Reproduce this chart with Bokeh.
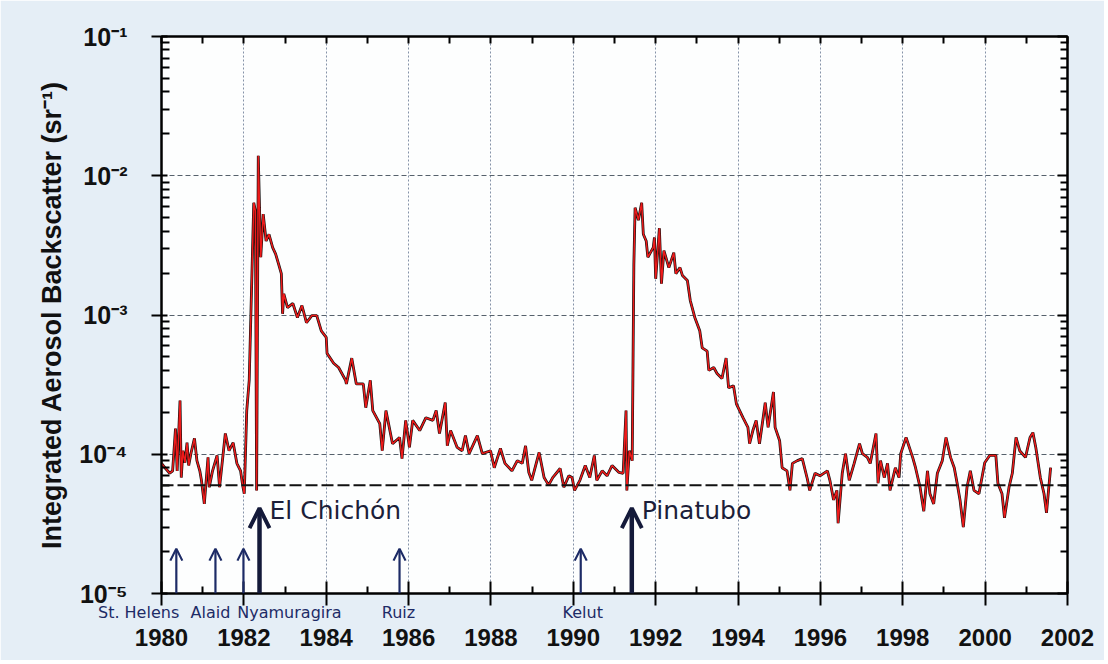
import math
from bokeh.plotting import figure
from bokeh.models import (Range1d, FixedTicker, LinearAxis, LogAxis, ColumnDataSource,
                          LabelSet, Arrow, OpenHead, Span, CustomJSTickFormatter)
from bokeh.core.properties import value
from bokeh.embed import file_html
from bokeh.resources import INLINE

# ---------------- data ----------------
years = [
    1980.00, 1980.10, 1980.20, 1980.27, 1980.34, 1980.38, 1980.45, 1980.48, 1980.52, 1980.57,
    1980.62, 1980.66, 1980.72, 1980.80, 1980.86, 1980.93, 1980.97, 1981.04, 1981.13, 1981.16,
    1981.24, 1981.35, 1981.41, 1981.55, 1981.64, 1981.74, 1981.83, 1981.92, 1981.97, 1982.01,
    1982.07, 1982.13, 1982.24, 1982.28, 1982.31, 1982.35, 1982.38, 1982.41, 1982.47, 1982.54,
    1982.61, 1982.70, 1982.77, 1982.84, 1982.91, 1982.94, 1982.97, 1983.06, 1983.19, 1983.30,
    1983.41, 1983.52, 1983.65, 1983.77, 1983.88, 1984.00, 1984.02, 1984.18, 1984.30, 1984.47,
    1984.49, 1984.62, 1984.73, 1984.90, 1984.96, 1985.07, 1985.13, 1985.30, 1985.36, 1985.45,
    1985.61, 1985.78, 1985.84, 1985.93, 1986.02, 1986.10, 1986.27, 1986.42, 1986.59, 1986.67,
    1986.75, 1986.89, 1986.94, 1987.02, 1987.18, 1987.30, 1987.38, 1987.47, 1987.67, 1987.79,
    1987.99, 1988.08, 1988.23, 1988.34, 1988.51, 1988.64, 1988.76, 1988.84, 1988.92, 1988.99,
    1989.17, 1989.29, 1989.40, 1989.50, 1989.68, 1989.77, 1989.89, 1989.97, 1990.03, 1990.16,
    1990.29, 1990.40, 1990.51, 1990.57, 1990.70, 1990.82, 1990.94, 1991.11, 1991.21, 1991.28,
    1991.30, 1991.36, 1991.43, 1991.47, 1991.50, 1991.58, 1991.66, 1991.70, 1991.77, 1991.81,
    1991.94, 1991.97, 1992.00, 1992.09, 1992.14, 1992.20, 1992.32, 1992.44, 1992.49, 1992.59,
    1992.65, 1992.77, 1992.84, 1992.95, 1993.07, 1993.13, 1993.25, 1993.29, 1993.41, 1993.49,
    1993.61, 1993.71, 1993.77, 1993.89, 1993.96, 1994.12, 1994.24, 1994.28, 1994.36, 1994.44,
    1994.52, 1994.61, 1994.66, 1994.73, 1994.86, 1994.90, 1995.01, 1995.07, 1995.19, 1995.26,
    1995.32, 1995.44, 1995.56, 1995.68, 1995.74, 1995.87, 1995.99, 1996.17, 1996.23, 1996.32,
    1996.40, 1996.43, 1996.53, 1996.61, 1996.70, 1996.82, 1996.95, 1997.02, 1997.14, 1997.21,
    1997.35, 1997.40, 1997.46, 1997.55, 1997.63, 1997.69, 1997.82, 1997.91, 1997.95, 1998.08,
    1998.24, 1998.31, 1998.42, 1998.51, 1998.60, 1998.66, 1998.75, 1998.84, 1998.96, 1999.05,
    1999.16, 1999.25, 1999.32, 1999.39, 1999.47, 1999.56, 1999.64, 1999.73, 1999.85, 1999.99,
    2000.11, 2000.26, 2000.31, 2000.41, 2000.47, 2000.58, 2000.66, 2000.75, 2000.84, 2000.98,
    2001.09, 2001.16, 2001.23, 2001.34, 2001.43, 2001.49, 2001.59,
]
backscatter = [
    8.6e-5, 7.9e-5, 7.3e-5, 7.6e-5, 1.53e-4, 7.6e-5, 2.43e-4, 6.8e-5, 1.06e-4, 8.7e-5,
    1.21e-4, 8.3e-5, 1.03e-4, 1.30e-4, 9.0e-5, 7.6e-5, 6.5e-5, 4.4e-5, 9.5e-5, 5.8e-5,
    7.6e-5, 9.8e-5, 5.8e-5, 1.41e-4, 1.06e-4, 1.21e-4, 8.6e-5, 7.6e-5, 6.0e-5, 5.2e-5,
    2.06e-4, 3.4e-4, 6.4e-3, 5.6e-3, 5.5e-5, 1.39e-2, 5.9e-3, 2.6e-3, 5.3e-3, 3.4e-3,
    3.8e-3, 3.05e-3, 2.75e-3, 2.34e-3, 1.98e-3, 1.02e-3, 1.42e-3, 1.13e-3, 1.21e-3, 9.6e-4,
    1.17e-3, 8.8e-4, 9.9e-4, 9.9e-4, 7.7e-4, 6.9e-4, 5.3e-4, 4.5e-4, 4.2e-4, 3.4e-4,
    3.2e-4, 4.9e-4, 3.2e-4, 3.2e-4, 2.16e-4, 3.4e-4, 2.06e-4, 1.66e-4, 1.06e-4, 2.06e-4,
    1.19e-4, 1.32e-4, 9.3e-5, 1.75e-4, 1.12e-4, 1.75e-4, 1.48e-4, 1.83e-4, 1.75e-4, 2.06e-4,
    1.41e-4, 2.35e-4, 1.15e-4, 1.48e-4, 1.12e-4, 1.06e-4, 1.36e-4, 1.01e-4, 1.36e-4, 1.01e-4,
    1.06e-4, 8.0e-5, 1.10e-4, 8.6e-5, 7.6e-5, 9.0e-5, 8.6e-5, 1.15e-4, 7.4e-5, 6.5e-5,
    1.03e-4, 6.8e-5, 6.0e-5, 6.8e-5, 7.9e-5, 5.8e-5, 7.0e-5, 6.8e-5, 5.5e-5, 6.5e-5,
    8.3e-5, 6.8e-5, 9.8e-5, 6.5e-5, 7.6e-5, 7.0e-5, 8.3e-5, 7.4e-5, 7.3e-5, 2.06e-4,
    5.5e-5, 1.06e-4, 9.0e-5, 2.3e-3, 5.9e-3, 4.8e-3, 6.4e-3, 3.8e-3, 3.4e-3, 2.6e-3,
    3.05e-3, 3.6e-3, 1.82e-3, 4.2e-3, 1.68e-3, 2.9e-3, 2.19e-3, 2.8e-3, 1.98e-3, 2.19e-3,
    1.92e-3, 1.77e-3, 1.27e-3, 9.6e-4, 7.7e-4, 5.8e-4, 5.5e-4, 4.0e-4, 4.2e-4, 3.8e-4,
    3.5e-4, 4.9e-4, 3.0e-4, 3.1e-4, 2.3e-4, 1.83e-4, 1.56e-4, 1.19e-4, 1.48e-4, 1.75e-4,
    1.19e-4, 1.83e-4, 2.35e-4, 1.56e-4, 2.8e-4, 1.56e-4, 1.25e-4, 8.0e-5, 7.6e-5, 5.5e-5,
    8.6e-5, 9.0e-5, 9.3e-5, 6.7e-5, 5.5e-5, 7.3e-5, 7.0e-5, 7.6e-5, 6.5e-5, 4.7e-5,
    5.5e-5, 3.2e-5, 7.3e-5, 1.01e-4, 6.5e-5, 8.6e-5, 1.19e-4, 1.01e-4, 9.5e-5, 8.6e-5,
    1.41e-4, 6.2e-5, 9.0e-5, 6.8e-5, 8.6e-5, 5.5e-5, 8.0e-5, 6.8e-5, 1.01e-4, 1.32e-4,
    9.5e-5, 8.0e-5, 5.8e-5, 3.9e-5, 7.6e-5, 5.2e-5, 4.4e-5, 7.3e-5, 9.0e-5, 1.32e-4,
    9.5e-5, 8.0e-5, 6.2e-5, 4.7e-5, 3.0e-5, 5.8e-5, 7.6e-5, 5.5e-5, 5.2e-5, 8.7e-5,
    9.8e-5, 9.8e-5, 6.2e-5, 5.2e-5, 3.5e-5, 5.8e-5, 7.3e-5, 1.32e-4, 1.06e-4, 9.5e-5,
    1.32e-4, 1.43e-4, 1.12e-4, 6.8e-5, 5.2e-5, 3.8e-5, 8.0e-5,
]

background_level = 6.0e-5

volcano_names = ["St. Helens", "Alaid", "Nyamuragira", "El Chichón", "Ruiz", "Kelut", "Pinatubo"]
volcano_years = [1980.36, 1981.31, 1981.99, 1982.38, 1985.78, 1990.18, 1991.42]
volcano_major = [False, False, False, True, False, False, True]

x_ticks = [1980, 1982, 1984, 1986, 1988, 1990, 1992, 1994, 1996, 1998, 2000, 2002]
x_minor = [1981, 1983, 1985, 1987, 1989, 1991, 1993, 1995, 1997, 1999, 2001]
y_ticks = [1e-5, 1e-4, 1e-3, 1e-2, 1e-1]
y_tick_labels = ["10\u207b\u2075", "10\u207b\u2074", "10\u207b\u00b3", "10\u207b\u00b2", "10\u207b\u00b9"]
y_label = "Integrated Aerosol Backscatter (sr\u207b\u00b9)"

# ---------------- styling / layout ----------------
SANS = "Liberation Sans"
ARROW_SMALL_TIP = 2.1e-5
ARROW_BIG_TIP = 4.1e-5
PX_PER_YEAR = 906 / 22.0
NAME_FONT_PX = 16
NBSP_PX = 0.318 * NAME_FONT_PX
# centre of each small volcano name, in pixels right of its arrow
name_center_px = {"St. Helens": -37, "Alaid": -5, "Nyamuragira": 46, "Ruiz": -1, "Kelut": 2}

y_minor = [k * 10.0 ** e for e in range(-5, -1) for k in range(2, 10)]

p = figure(width=1104, height=660,
           x_range=Range1d(1980, 2002), y_range=Range1d(1e-5, 1e-1),
           y_axis_type="log", output_backend="svg", toolbar_location=None,
           min_border_left=161, min_border_right=37, min_border_top=36, min_border_bottom=67,
           background_fill_color="#fdfefe", border_fill_color="#e5eef6")
p.outline_line_color = "black"
p.outline_line_width = 2

nearest_js = """
let best = 0;
for (let i = 0; i < vals.length; i++) {
  if (Math.abs(vals[i] - tick) < Math.abs(vals[best] - tick)) best = i;
}
return labels[best];
"""
nearest_log_js = """
let best = 0;
const lt = Math.log10(tick);
for (let i = 0; i < vals.length; i++) {
  if (Math.abs(Math.log10(vals[i]) - lt) < Math.abs(Math.log10(vals[best]) - lt)) best = i;
}
return labels[best];
"""

# bottom axis 1: ticks only
xa = p.xaxis[0]
xa.ticker = FixedTicker(ticks=x_ticks, minor_ticks=x_minor)
xa.axis_line_width = 2
xa.major_tick_line_width = 2
xa.minor_tick_line_width = 2
xa.major_tick_in = 12
xa.major_tick_out = 12
xa.minor_tick_in = 7
xa.minor_tick_out = 0
xa.major_label_standoff = 0
xa.major_label_text_font_size = "0px"
xa.major_label_text_color = None

# bottom axis 2: small volcano names (centred; clamped ones padded)
small_pos, small_lbl = [], []
for n, yr, big in zip(volcano_names, volcano_years, volcano_major):
    if big:
        continue
    want = yr + name_center_px[n] / PX_PER_YEAR
    pos = max(want, 1980.0)
    pad = int(round(2 * (pos - want) * PX_PER_YEAR / NBSP_PX))
    small_pos.append(pos)
    small_lbl.append(n + "\u00a0" * pad)
names_axis = LinearAxis(
    ticker=FixedTicker(ticks=small_pos, minor_ticks=[]),
    formatter=CustomJSTickFormatter(args=dict(vals=small_pos, labels=small_lbl), code=nearest_js),
    axis_line_color=None, major_tick_in=0, major_tick_out=0, minor_tick_in=0, minor_tick_out=0,
    major_label_standoff=-3,
    major_label_text_font="DejaVu Sans", major_label_text_font_size="%dpx" % NAME_FONT_PX,
    major_label_text_color="#1d2b66")
p.add_layout(names_axis, "below")

# bottom axis 3: year labels
year_axis = LinearAxis(
    ticker=FixedTicker(ticks=x_ticks, minor_ticks=[]),
    axis_line_color=None, major_tick_in=0, major_tick_out=0, minor_tick_in=0, minor_tick_out=0,
    major_label_standoff=4, major_label_text_font=SANS, major_label_text_font_style="bold",
    major_label_text_font_size="24px", major_label_text_color="#111111")
p.add_layout(year_axis, "below")

# left axis
ya = p.yaxis[0]
ya.ticker = FixedTicker(ticks=y_ticks, minor_ticks=y_minor)
ya.formatter = CustomJSTickFormatter(args=dict(vals=y_ticks, labels=y_tick_labels), code=nearest_log_js)
ya.axis_line_width = 2
ya.major_tick_line_width = 2
ya.minor_tick_line_width = 2
ya.major_tick_in = 6
ya.major_tick_out = 10
ya.minor_tick_in = 8
ya.minor_tick_out = 0
ya.major_label_standoff = 24
ya.major_label_text_font = SANS
ya.major_label_text_font_style = "bold"
ya.major_label_text_font_size = "25px"
ya.major_label_text_color = "#111111"
ya.axis_label = y_label
ya.axis_label_standoff = 9
ya.axis_label_text_font = SANS
ya.axis_label_text_font_style = "bold"
ya.axis_label_text_font_size = "27px"
ya.axis_label_text_color = "#111111"

# top axis (ticks every year, inward)
top = LinearAxis(ticker=FixedTicker(ticks=list(range(1980, 2003)), minor_ticks=[]),
                 axis_line_width=2, major_tick_line_width=2, major_tick_in=7, major_tick_out=0,
                 minor_tick_in=0, minor_tick_out=0, major_label_standoff=0,
                 major_label_text_font_size="0px", major_label_text_color=None)
p.add_layout(top, "above")

# right axis
right = LogAxis(ticker=FixedTicker(ticks=y_ticks, minor_ticks=y_minor),
                axis_line_width=2, major_tick_line_width=2, minor_tick_line_width=2,
                major_tick_in=10, major_tick_out=0, minor_tick_in=7, minor_tick_out=0,
                major_label_standoff=0,
                major_label_text_font_size="0px", major_label_text_color=None)
p.add_layout(right, "right")

# grids
p.xgrid[0].ticker = FixedTicker(ticks=x_ticks[1:-1])
p.xgrid[0].grid_line_color = "#8593a8"
p.xgrid[0].grid_line_dash = "2 2"
p.xgrid[0].grid_line_width = 1
p.ygrid[0].ticker = FixedTicker(ticks=y_ticks[1:-1])
p.ygrid[0].grid_line_color = "#56616c"
p.ygrid[0].grid_line_dash = "5 3"
p.ygrid[0].grid_line_width = 1

# background level
p.add_layout(Span(location=background_level, dimension="width", line_color="#111111",
                  line_width=2, line_dash="12 4"))

# data
src = ColumnDataSource(dict(x=years, y=backscatter))
p.line("x", "y", source=src, line_color="#141010", line_width=2.8)
p.line("x", "y", source=src, line_color="#ee1a1a", line_width=1.5)

# volcano arrows
bx, by, bt = [], [], []
for name, yr, big in zip(volcano_names, volcano_years, volcano_major):
    if big:
        p.add_layout(Arrow(end=OpenHead(size=20, line_width=4, line_color="#141a3a"),
                           x_start=yr, y_start=1e-5, x_end=yr, y_end=ARROW_BIG_TIP,
                           line_width=4.5, line_color="#141a3a"))
        bx.append(yr); by.append(ARROW_BIG_TIP); bt.append(name)
    else:
        p.add_layout(Arrow(end=OpenHead(size=12, line_width=2.2, line_color="#1d2b66"),
                           x_start=yr, y_start=1e-5, x_end=yr, y_end=ARROW_SMALL_TIP,
                           line_width=2.2, line_color="#1d2b66"))

bs = ColumnDataSource(dict(x=bx, y=by, t=bt))
p.add_layout(LabelSet(x="x", y="y", text="t", source=bs, x_offset=10, y_offset=-2,
                      text_align="left", text_baseline="middle",
                      text_font=value("DejaVu Sans"),
                      text_font_size="25px", text_color="#1c1f3a"))

html = file_html(p, INLINE)
html = html.replace("<body>", '<body style="background-color:#e5eef6;">', 1)
open("out.html", "w").write(html)
